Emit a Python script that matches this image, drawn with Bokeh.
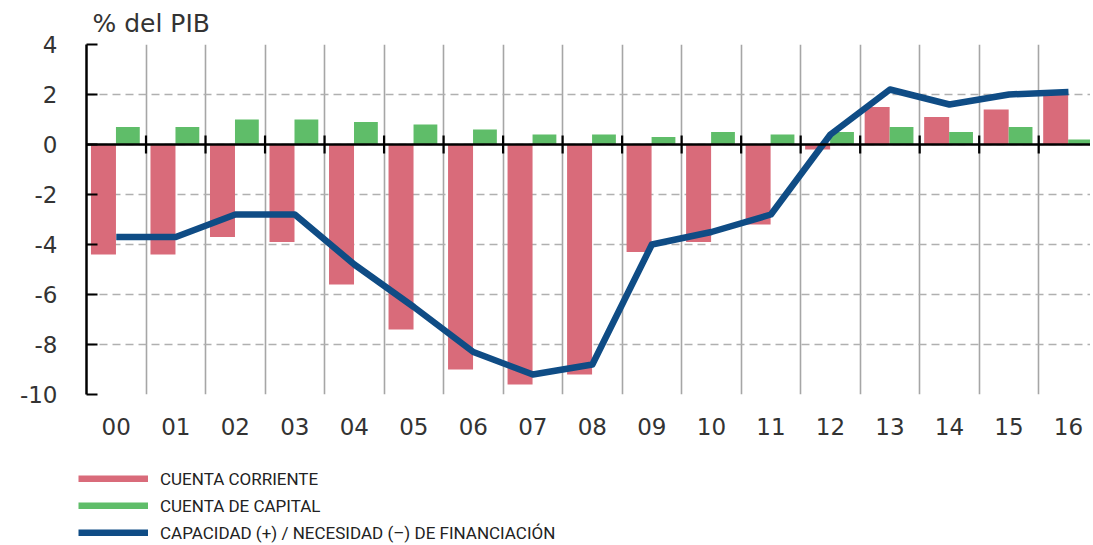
from bokeh.plotting import figure
from bokeh.layouts import column, row
from bokeh.models import (Range1d, FixedTicker, Span, Legend, LegendItem, Title,
                          ColumnDataSource)
from bokeh.transform import dodge
from bokeh.embed import file_html
from bokeh.resources import INLINE

years = ["00", "01", "02", "03", "04", "05", "06", "07", "08", "09",
         "10", "11", "12", "13", "14", "15", "16"]
cuenta_corriente = [-4.4, -4.4, -3.7, -3.9, -5.6, -7.4, -9.0, -9.6, -9.2, -4.3,
                    -3.9, -3.2, -0.2, 1.5, 1.1, 1.4, 2.0]
cuenta_capital = [0.7, 0.7, 1.0, 1.0, 0.9, 0.8, 0.6, 0.4, 0.4, 0.3,
                  0.5, 0.4, 0.5, 0.7, 0.5, 0.7, 0.2]
capacidad = [-3.7, -3.7, -2.8, -2.8, -4.8, -6.5, -8.3, -9.2, -8.8, -4.0,
             -3.5, -2.8, 0.4, 2.2, 1.6, 2.0, 2.1]
y_ticks = [-10, -8, -6, -4, -2, 0, 2, 4]
y_tick_labels = ["-10", "-8", "-6", "-4", "-2", "0", "2", "4"]
legend_labels = ["CUENTA CORRIENTE", "CUENTA DE CAPITAL",
                 "CAPACIDAD (+) / NECESIDAD (–) DE FINANCIACIÓN"]

RED = "#d96b7a"
GREEN = "#5fbd69"
BLUE = "#0f4c85"
TXT = "#333333"
FONT = "DejaVu Sans"

n = len(years)
centers = [i + 0.5 for i in range(n)]
boundaries = list(range(1, n))

src = ColumnDataSource(dict(x=centers, cc=cuenta_corriente, ck=cuenta_capital,
                            cap=capacidad))

p = figure(width=1090, height=440, x_range=Range1d(0, 16.87),
           y_range=Range1d(-10, 4), output_backend="svg", toolbar_location=None,
           min_border_left=86, min_border_right=0, min_border_top=44,
           min_border_bottom=46)
p.outline_line_color = None
p.background_fill_color = "white"
p.border_fill_color = "white"

# grids
p.xgrid.ticker = FixedTicker(ticks=boundaries)
p.xgrid.grid_line_color = "#a6a6a6"
p.xgrid.grid_line_width = 1.6
p.ygrid.ticker = FixedTicker(ticks=y_ticks)
p.ygrid.grid_line_color = "#b0b0b0"
p.ygrid.grid_line_width = 1.6
p.ygrid.grid_line_dash = "8 5"

# axes
p.yaxis.ticker = FixedTicker(ticks=y_ticks)
p.yaxis.major_label_overrides = {t: s for t, s in zip(y_ticks, y_tick_labels)}
p.yaxis.axis_line_color = "black"
p.yaxis.axis_line_width = 2.5
p.yaxis.major_tick_in = 11
p.yaxis.major_tick_out = 0
p.yaxis.major_tick_line_color = "black"
p.yaxis.major_tick_line_width = 2
p.yaxis.minor_tick_line_color = None
p.yaxis.major_label_standoff = 29
p.yaxis.major_label_text_font = FONT
p.yaxis.major_label_text_font_size = "23px"
p.yaxis.major_label_text_color = TXT

p.xaxis.ticker = FixedTicker(ticks=centers)
p.xaxis.major_label_overrides = {c: y for c, y in zip(centers, years)}
p.xaxis.axis_line_color = None
p.xaxis.major_tick_line_color = None
p.xaxis.minor_tick_line_color = None
p.xaxis.major_label_standoff = 17
p.xaxis.major_label_text_font = FONT
p.xaxis.major_label_text_font_size = "23px"
p.xaxis.major_label_text_color = TXT

# bars
r_cc = p.vbar(x=dodge("x", -0.215, range=p.x_range), top="cc", bottom=0, width=0.42,
              source=src, fill_color=RED, line_color=None)
r_ck = p.vbar(x=dodge("x", 0.195, range=p.x_range), top="ck", bottom=0, width=0.40,
              source=src, fill_color=GREEN, line_color=None)

# zero line and its small ticks at the category boundaries
p.add_layout(Span(location=0, dimension="width", line_color="black", line_width=2.5))
p.segment(x0=boundaries, x1=boundaries, y0=[-0.36] * len(boundaries),
          y1=[0.36] * len(boundaries), line_color="black", line_width=2.2)

r_cap = p.line(x="x", y="cap", source=src, line_color=BLUE, line_width=6.5,
               line_join="round")

# title
p.title = Title(text="% del PIB", text_font=FONT, text_font_size="25px",
                text_color=TXT, text_font_style="normal", offset=6, standoff=13)

# legend panel
lg = figure(width=1090, height=105, x_range=Range1d(0, 1), y_range=Range1d(0, 1),
            output_backend="svg", toolbar_location=None,
            x_axis_type=None, y_axis_type=None,
            min_border_left=0, min_border_right=0, min_border_top=0,
            min_border_bottom=0)
lg.outline_line_color = None
lg.xgrid.visible = False
lg.ygrid.visible = False
swatch_colors = [RED, GREEN, BLUE]
items = []
for lab, col in zip(legend_labels, swatch_colors):
    rr = lg.line(x=[-5, -4], y=[-5, -5], line_color=col, line_width=7,
                 line_cap="butt")
    items.append(LegendItem(label=lab, renderers=[rr]))
legend = Legend(items=items, location=(78, 2), orientation="vertical",
                glyph_width=70, glyph_height=7, label_standoff=12,
                label_text_font="Roboto",
                label_text_font_size="17px", label_text_color="#222222",
                label_height=21, spacing=6, padding=0, margin=0,
                border_line_color=None, background_fill_alpha=0)
lg.add_layout(legend, "center")

layout = column(p, row(lg), spacing=0)
open("out.html", "w").write(file_html(layout, INLINE))
